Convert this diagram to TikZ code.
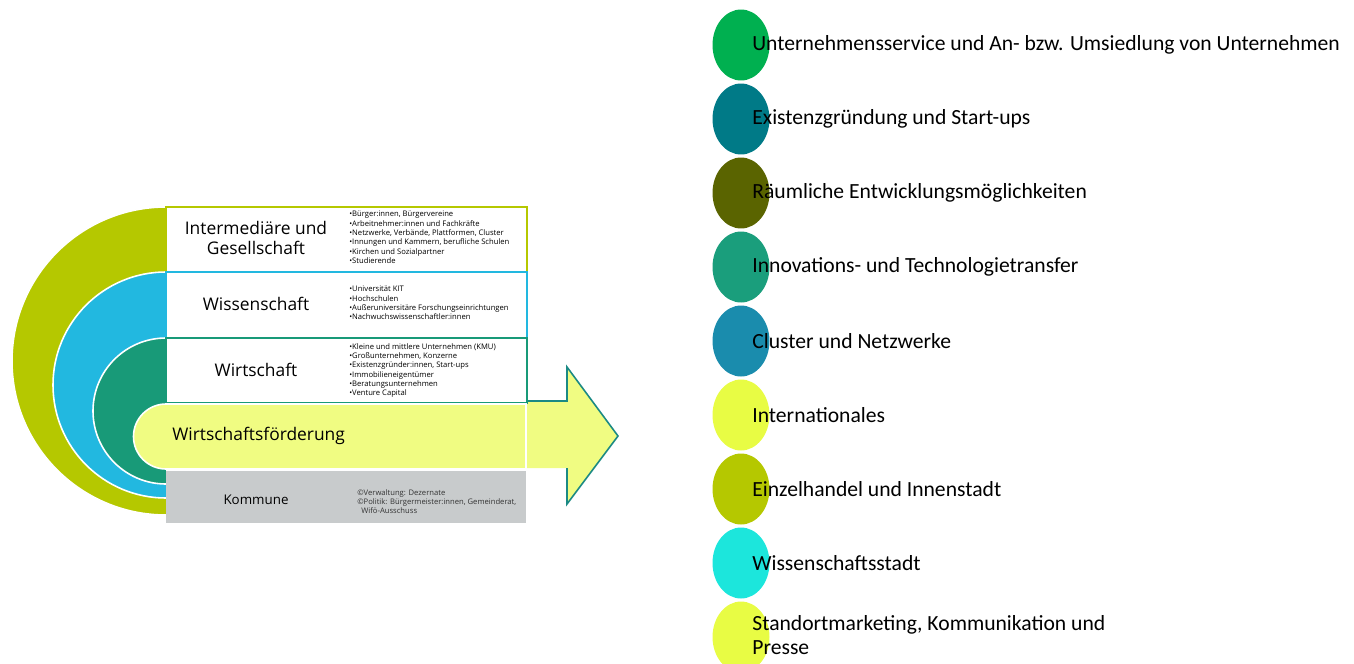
\documentclass[tikz,border=0pt]{standalone}
\usepackage{fontspec}
\setmainfont{Carlito}
\newfontfamily\boxfont{Open Sans}
\usetikzlibrary{shapes.geometric,positioning}

\definecolor{ringgreen}{HTML}{B5C800}
\definecolor{ringblue}{HTML}{22B8E0}
\definecolor{ringteal}{HTML}{189A78}
\definecolor{paleyellow}{HTML}{F0FC82}
\definecolor{kommgray}{HTML}{C8CBCC}
\definecolor{arrowline}{HTML}{1B8A84}
\definecolor{topicA}{HTML}{00B050}
\definecolor{topicB}{HTML}{007A87}
\definecolor{topicC}{HTML}{5A6400}
\definecolor{topicD}{HTML}{1A9E7C}
\definecolor{topicE}{HTML}{1A8CAD}
\definecolor{topicF}{HTML}{E8FC44}
\definecolor{topicG}{HTML}{B5C800}
\definecolor{topicH}{HTML}{1CE6DC}

\tikzset{ring/.style={draw=white,line width=0.9pt},
    sectorbox/.style={line width=0.9pt},
    sectorlabel/.style={font=\boxfont\fontsize{9.9}{11.5}\selectfont,align=center,inner sep=0},
    bulletlist/.style={font=\boxfont\fontsize{4.35}{5.3}\selectfont,align=left,anchor=north west,inner sep=0},
    topicdot/.style={ellipse,minimum width=1.14cm,minimum height=1.42cm,inner sep=0},
    topictext/.style={font=\fontsize{12.3}{13.6}\selectfont,anchor=west,align=left,inner sep=0}}

\begin{document}
\begin{tikzpicture}[x=0.02cm,y=-0.02cm]
\useasboundingbox (0,0) rectangle (1354,663);

% rings
\fill [ringgreen,ring] (166,361) circle [radius=154];
\fill [ringblue,ring] (166,385) circle [radius=113];
\fill [ringteal,ring] (166,411) circle [radius=73];
\fill [white] (166,207) rectangle (527,523);

% arrow
\fill [paleyellow] (527,401) -- (567,401) -- (567,367) -- (618,436) -- (567,504) -- (567,468) -- (527,468) -- cycle;
\draw [arrowline,line width=0.9pt] (527,401) -- (567,401) -- (567,367) -- (618,436) -- (567,504) -- (567,468);

% sector boxes
\draw [sectorbox,draw=ringgreen,fill=white] (166,207) rectangle (527,272);
\draw [sectorbox,draw=ringblue,fill=white] (166,272) rectangle (527,338);
\draw [sectorbox,draw=ringteal,fill=white] (166,338) rectangle (527,403);
\fill [paleyellow,draw=white,line width=0.9pt] (166,404) -- (526,404) -- (526,469) -- (166,469) arc [start angle=90,end angle=270,radius=32.5] -- cycle;
\fill [kommgray] (166,471) rectangle (526,523);

\node (ig) [sectorlabel] at (256,238) {Intermediäre und\\Gesellschaft};
\node (ws) [sectorlabel] at (256,304) {Wissenschaft};
\node (wi) [sectorlabel] at (256,370) {Wirtschaft};
\node (wf) [sectorlabel,anchor=west] at (172,436) {Wirtschaftsförderung};
\node (ko) [sectorlabel,font=\boxfont\fontsize{7.6}{9}\selectfont] at (256,500) {Kommune};

\node (igList) [bulletlist] at (349,211) {•Bürger:innen, Bürgervereine\\•Arbeitnehmer:innen und Fachkräfte\\•Netzwerke, Verbände, Plattformen, Cluster\\•Innungen und Kammern, berufliche Schulen\\•Kirchen und Sozialpartner\\•Studierende};
\node (wsList) [bulletlist] at (349,286) {•Universität KIT\\•Hochschulen\\•Außeruniversitäre Forschungseinrichtungen\\•Nachwuchswissenschaftler:innen};
\node (wiList) [bulletlist] at (349,343) {•Kleine und mittlere Unternehmen (KMU)\\•Großunternehmen, Konzerne\\•Existenzgründer:innen, Start-ups\\•Immobilieneigentümer\\•Beratungsunternehmen\\•Venture Capital};
\node (koList) [bulletlist,text=black!80] at (357,489) {©Verwaltung: Dezernate\\©Politik: Bürgermeister:innen, Gemeinderat,\\\ \ Wifö-Ausschuss};

% fields of action
\node (d1) [topicdot,fill=topicA] at (741,45) {};
\node (t1) [topictext] at (752,45) {Unternehmensservice und An- bzw. Umsiedlung von Unternehmen};
\node (d2) [topicdot,fill=topicB] at (741,119) {};
\node (t2) [topictext] at (752,119) {Existenzgründung und Start-ups};
\node (d3) [topicdot,fill=topicC] at (741,193) {};
\node (t3) [topictext] at (752,193) {Räumliche Entwicklungsmöglichkeiten};
\node (d4) [topicdot,fill=topicD] at (741,267) {};
\node (t4) [topictext] at (752,267) {Innovations- und Technologietransfer};
\node (d5) [topicdot,fill=topicE] at (741,341) {};
\node (t5) [topictext] at (752,341) {Cluster und Netzwerke};
\node (d6) [topicdot,fill=topicF] at (741,415) {};
\node (t6) [topictext] at (752,415) {Internationales};
\node (d7) [topicdot,fill=topicG] at (741,489) {};
\node (t7) [topictext] at (752,489) {Einzelhandel und Innenstadt};
\node (d8) [topicdot,fill=topicH] at (741,563) {};
\node (t8) [topictext] at (752,563) {Wissenschaftsstadt};
\node (d9) [topicdot,fill=topicF] at (741,637) {};
\node (t9) [topictext] at (752,635) {Standortmarketing, Kommunikation und\\Presse};

\end{tikzpicture}
\end{document}
